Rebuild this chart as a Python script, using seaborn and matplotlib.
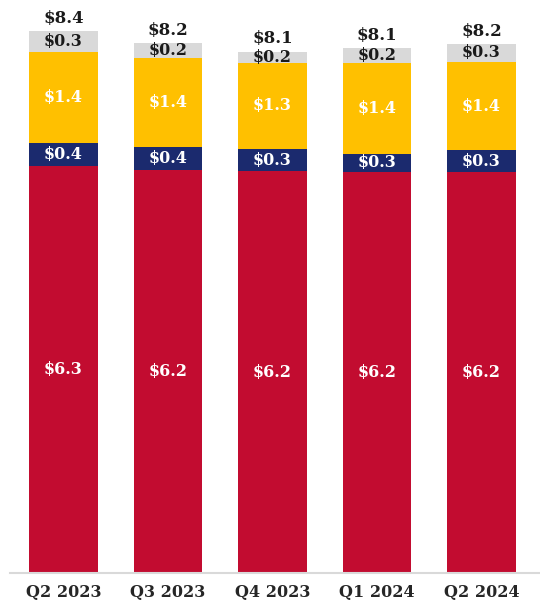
### Stacked bar chart of quarterly totals ###

import matplotlib.pyplot as plt
import pandas as pd
import seaborn as sns

quarters = ["Q2 2023", "Q3 2023", "Q4 2023", "Q1 2024", "Q2 2024"]
red_values = [6.30, 6.24, 6.23, 6.22, 6.21]
navy_values = [0.37, 0.36, 0.34, 0.28, 0.34]
yellow_values = [1.40, 1.38, 1.34, 1.41, 1.37]
grey_values = [0.33, 0.23, 0.17, 0.22, 0.28]

layers = [
    ("red", red_values, "#C20C30", "white"),
    ("navy", navy_values, "#1B2A6E", "white"),
    ("yellow", yellow_values, "#FFC000", "white"),
    ("grey", grey_values, "#D9D9D9", "#1a1a1a"),
]

df = pd.DataFrame({"quarter": quarters})
for name, vals, _, _ in layers:
    df[name] = vals

sns.set_style("white")
plt.rcParams["font.family"] = ["DejaVu Serif"]
plt.rcParams["font.weight"] = "bold"

fig = plt.figure(figsize=(5.4, 6.09), dpi=100)
ax = fig.add_axes([0.0185, 0.059, 0.9815, 0.941])

bottom = pd.Series([0.0] * len(df))
for name, vals, color, text_color in layers:
    sns.barplot(
        data=df, x="quarter", y=name, bottom=bottom, color=color,
        width=0.66, saturation=1, ax=ax, edgecolor=color, linewidth=0,
    )
    for i, v in enumerate(df[name]):
        ax.text(
            i, bottom[i] + v / 2, f"${v:.1f}", ha="center", va="center",
            color=text_color, fontsize=11.5, fontweight="bold",
        )
    bottom = bottom + df[name]

for i, total in enumerate(bottom):
    ax.annotate(
        f"${total:.1f}", (i, total), xytext=(0, 3), textcoords="offset points",
        ha="center", va="bottom", fontsize=12, fontweight="bold", color="#1a1a1a",
    )

ax.set_xlim(-0.512, 4.56)
ax.set_ylim(0, 8.88)
ax.set_xlabel("")
ax.set_ylabel("")
ax.set_yticks([])
ax.tick_params(axis="x", length=0, pad=8, labelsize=11.5)
for lbl in ax.get_xticklabels():
    lbl.set_fontweight("bold")
for side in ["top", "right", "left"]:
    ax.spines[side].set_visible(False)
ax.spines["bottom"].set_color("#d9d9d9")
ax.spines["bottom"].set_linewidth(1.5)

fig.savefig("out.png", dpi=100)
